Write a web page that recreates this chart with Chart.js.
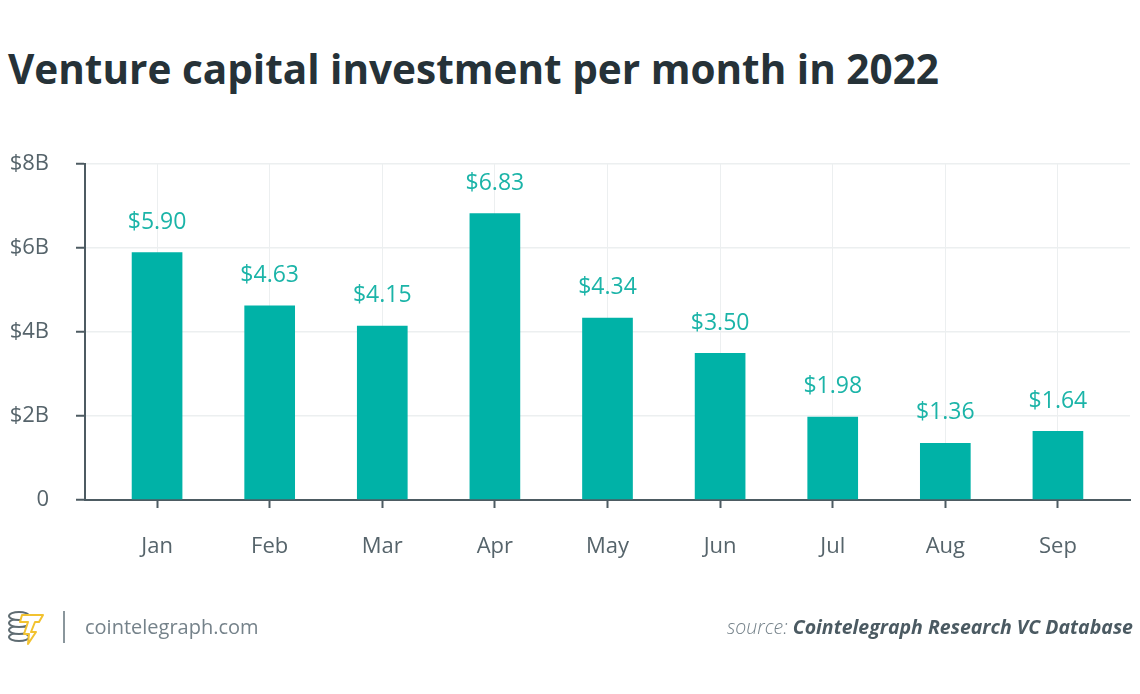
<!DOCTYPE html>
<html lang="en">

<head>
    <meta charset="UTF-8">
    <title>Venture capital investment per month in 2022</title>
    <style>
        body { margin: 0; background: #fff; font-family: "Open Sans", sans-serif; }
        .page { position: relative; width: 1140px; height: 694px; overflow: hidden; }
        #chart { position: absolute; left: 0; top: 0; }
        h1 {
            position: absolute; left: 8px; top: 39px; margin: 0;
            font-size: 40.5px; font-weight: 700; color: #263238;
            white-space: nowrap; line-height: 60px;
        }
        .logo { position: absolute; left: 6px; top: 610px; }
        .sep { position: absolute; left: 63px; top: 611px; width: 2px; height: 32px; background: #8a969c; }
        .site { position: absolute; left: 85px; top: 612px; font-size: 20px; color: #75828a; line-height: 30px; }
        .source {
            position: absolute; right: 7px; top: 612px; font-size: 19.5px; line-height: 30px;
            font-style: italic; color: #75828a; white-space: nowrap;
        }
        .source b { color: #4b5a62; font-weight: 700; }
    </style>
</head>

<body>
    <div class="page">
        <h1>Venture capital investment per month in 2022</h1>
        <canvas id="chart" width="1140" height="694"></canvas>

        <!-- footer -->
        <svg class="logo" width="40" height="36" viewBox="0 0 40 36">
            <g fill="#fff" stroke="#5f6c72" stroke-width="2">
                <ellipse cx="13" cy="27" rx="10" ry="4"/>
                <ellipse cx="13" cy="20" rx="10" ry="4"/>
                <ellipse cx="13" cy="13" rx="10" ry="4"/>
                <ellipse cx="13" cy="6" rx="10" ry="4"/>
            </g>
            <path d="M16 5 L37 5 L33 12 L29 12 L25 22 L30 22 L22 34 L23 24 L18 24 L22 12 L14 12 Z"
                fill="#fff" stroke="#f2c230" stroke-width="2" stroke-linejoin="round"/>
        </svg>
        <div class="sep"></div>
        <div class="site">cointelegraph.com</div>
        <div class="source"><span style="font-weight:300">source:</span> <b>Cointelegraph Research VC Database</b></div>
    </div>

    <script src="https://cdn.jsdelivr.net/npm/chart.js@4.4.0/dist/chart.umd.min.js"></script>
    <script>
        var months = ['Jan', 'Feb', 'Mar', 'Apr', 'May', 'Jun', 'Jul', 'Aug', 'Sep'];
        var investment = [5.90, 4.63, 4.15, 6.83, 4.34, 3.50, 1.98, 1.36, 1.64];
        var yTicks = [0, 2, 4, 6, 8];

        var barColor = '#00b2a7';
        var labelColor = '#1bb4a8';
        var axisColor = '#4d5b62';
        var gridColor = '#eceff0';
        var textColor = '#56646b';

        // value labels above the bars
        var valueLabels = {
            id: 'valueLabels',
            afterDatasetsDraw: function(chart) {
                var ctx = chart.ctx;
                var meta = chart.getDatasetMeta(0);
                ctx.save();
                ctx.font = '23px "Open Sans"';
                ctx.fillStyle = labelColor;
                ctx.textAlign = 'center';
                ctx.textBaseline = 'middle';
                meta.data.forEach(function(bar, i) {
                    ctx.fillText('$' + investment[i].toFixed(2), bar.x, bar.y - 30);
                });
                ctx.restore();
            }
        };

        var ctx = document.getElementById('chart').getContext('2d');
        var myChart = new Chart(ctx, {
            type: 'bar',
            data: {
                datasets: [{
                    data: investment.map(function(v, i) { return { x: i, y: v }; }),
                    backgroundColor: barColor,
                    categoryPercentage: 1,
                    barPercentage: 0.45
                }]
            },
            options: {
                responsive: false,
                animation: false,
                layout: { padding: { left: 0, right: 10, top: 164, bottom: 124 } },
                plugins: { legend: { display: false }, tooltip: { enabled: false } },
                scales: {
                    x: {
                        type: 'linear',
                        offset: false,
                        min: -0.64,
                        max: months.length - 1 + 0.64,
                        afterBuildTicks: function(scale) {
                            scale.ticks = months.map(function(m, i) { return { value: i }; });
                        },
                        afterFit: function(scale) { scale.height = 70; },
                        border: { color: axisColor, width: 2 },
                        grid: { offset: false, color: gridColor, tickColor: axisColor, tickLength: 8, tickWidth: 2, lineWidth: 1 },
                        ticks: {
                            autoSkip: false,
                            maxRotation: 0,
                            padding: 26,
                            color: textColor,
                            font: { family: 'Open Sans', size: 22 },
                            callback: function(v) { return months[v]; }
                        }
                    },
                    y: {
                        min: 0,
                        max: 8,
                        afterBuildTicks: function(scale) {
                            scale.ticks = yTicks.map(function(v) { return { value: v }; });
                        },
                        afterFit: function(scale) { scale.width = 85; },
                        border: { color: axisColor, width: 2 },
                        grid: { color: gridColor, tickColor: axisColor, tickLength: 9, tickWidth: 2, lineWidth: 1.5 },
                        ticks: {
                            padding: 27,
                            color: textColor,
                            font: { family: 'Open Sans', size: 22 },
                            callback: function(v) { return v === 0 ? '0' : '$' + v + 'B'; }
                        }
                    }
                }
            },
            plugins: [valueLabels]
        });
    </script>
</body>

</html>
